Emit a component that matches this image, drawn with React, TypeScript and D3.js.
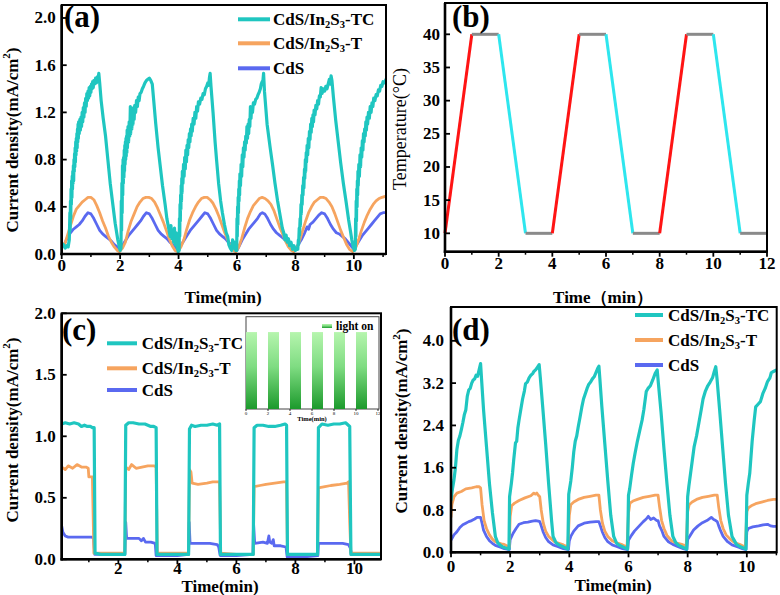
import React from "react";
import * as d3 from "d3";

type Pt = [number, number];

// ---------------- data: panel (a) ----------------
const A_TC: Pt[] = [
  [0.0,0.07],[0.06,0.08],[0.12,0.05],[0.17,0.07],[0.22,0.06],[0.26,0.12],[0.28,0.35],[0.29,0.2],[0.3,0.45],[0.31,0.3],[0.32,0.55],[0.33,0.42],[0.34,0.62],[0.35,0.48],[0.36,0.66],[0.37,0.55],[0.38,0.7],[0.39,0.6],[0.4,0.75],[0.41,0.62],[0.42,0.8],[0.43,0.7],[0.44,0.85],[0.45,0.74],[0.46,0.9],[0.47,0.78],[0.48,0.95],[0.49,0.84],[0.5,0.98],[0.51,0.87],[0.52,1.02],[0.53,0.9],[0.54,1.06],[0.55,0.95],[0.56,1.1],[0.57,0.98],[0.58,1.12],[0.6,1.02],[0.62,1.14],[0.64,1.05],[0.66,1.16],[0.68,1.08],[0.7,1.2],[0.72,1.12],[0.74,1.24],[0.76,1.16],[0.78,1.28],[0.8,1.2],[0.82,1.32],[0.84,1.25],[0.86,1.36],[0.88,1.3],[0.9,1.38],[0.92,1.32],[0.94,1.41],[0.96,1.34],[0.98,1.42],[1.0,1.37],[1.02,1.44],[1.04,1.4],[1.06,1.46],[1.08,1.41],[1.1,1.47],[1.13,1.44],[1.16,1.49],[1.19,1.45],[1.22,1.5],[1.24,1.47],[1.27,1.53],[1.3,1.45],[1.35,1.3],[1.42,1.15],[1.5,1.0],[1.58,0.8],[1.66,0.6],[1.75,0.42],[1.83,0.26],[1.92,0.12],[2.0,0.03],
  [2.03,0.05],[2.04,0.45],[2.05,0.2],[2.06,0.6],[2.07,0.35],[2.08,0.75],[2.09,0.5],[2.1,0.8],[2.11,0.6],[2.12,0.82],[2.13,0.65],[2.14,0.88],[2.15,0.7],[2.16,0.92],[2.17,0.76],[2.18,0.95],[2.19,0.8],[2.2,0.98],[2.21,0.83],[2.22,1.0],[2.23,0.86],[2.24,1.05],[2.25,0.9],[2.27,1.08],[2.29,0.95],[2.31,1.12],[2.33,1.0],[2.35,1.25],[2.36,1.02],[2.38,1.2],[2.4,1.06],[2.42,1.22],[2.44,1.1],[2.46,1.24],[2.48,1.14],[2.5,1.26],[2.53,1.2],[2.56,1.3],[2.59,1.25],[2.62,1.33],[2.65,1.3],[2.68,1.36],[2.72,1.37],[2.76,1.4],[2.8,1.42],[2.85,1.45],[2.9,1.47],[2.95,1.48],[3.0,1.49],[3.05,1.47],[3.1,1.44],[3.15,1.3],[3.22,1.1],[3.3,0.9],[3.37,0.75],[3.45,0.58],[3.54,0.42],[3.6,0.3],[3.66,0.22],[3.71,0.15],[3.74,0.24],[3.77,0.13],[3.8,0.2],[3.83,0.1],[3.86,0.22],[3.89,0.08],[3.92,0.18],[3.95,0.06],[3.99,0.02],
  [4.02,0.03],[4.03,0.3],[4.04,0.15],[4.05,0.42],[4.06,0.28],[4.07,0.5],[4.08,0.38],[4.09,0.58],[4.1,0.45],[4.11,0.64],[4.12,0.52],[4.13,0.7],[4.15,0.6],[4.17,0.76],[4.19,0.66],[4.21,0.82],[4.23,0.72],[4.25,0.88],[4.27,0.78],[4.29,0.92],[4.31,0.84],[4.33,0.97],[4.35,0.9],[4.37,1.02],[4.39,0.95],[4.41,1.06],[4.43,1.0],[4.45,1.1],[4.47,1.04],[4.5,1.15],[4.53,1.1],[4.56,1.2],[4.59,1.15],[4.62,1.25],[4.65,1.21],[4.68,1.29],[4.72,1.27],[4.76,1.32],[4.8,1.31],[4.84,1.36],[4.88,1.35],[4.92,1.4],[4.96,1.42],[5.0,1.45],[5.03,1.43],[5.06,1.5],[5.08,1.53],[5.11,1.42],[5.18,1.2],[5.25,0.95],[5.3,0.8],[5.37,0.6],[5.44,0.45],[5.5,0.35],[5.57,0.25],[5.63,0.18],[5.68,0.15],[5.72,0.08],[5.77,0.05],[5.82,0.03],[5.85,0.12],[5.88,0.05],[5.92,0.1],[5.96,0.03],
  [5.99,0.03],[6.0,0.3],[6.01,0.15],[6.02,0.4],[6.03,0.25],[6.04,0.48],[6.05,0.35],[6.06,0.55],[6.07,0.45],[6.08,0.62],[6.09,0.5],[6.1,0.68],[6.12,0.58],[6.14,0.76],[6.16,0.66],[6.18,0.84],[6.2,0.74],[6.22,0.9],[6.24,0.82],[6.26,0.95],[6.28,0.88],[6.3,1.0],[6.32,0.94],[6.34,1.08],[6.36,0.98],[6.38,1.1],[6.4,1.02],[6.42,1.14],[6.44,1.08],[6.46,1.25],[6.48,1.15],[6.5,1.24],[6.53,1.2],[6.56,1.28],[6.6,1.27],[6.64,1.31],[6.68,1.32],[6.72,1.35],[6.76,1.37],[6.8,1.4],[6.83,1.44],[6.86,1.46],[6.88,1.45],[6.91,1.53],[6.94,1.38],[7.03,1.1],[7.13,0.91],[7.22,0.75],[7.3,0.6],[7.39,0.45],[7.48,0.32],[7.55,0.22],[7.6,0.18],[7.64,0.12],[7.68,0.16],[7.72,0.1],[7.76,0.13],[7.8,0.07],[7.85,0.1],[7.9,0.04],[7.95,0.07],[8.0,0.03],[8.05,0.05],
  [8.08,0.04],[8.1,0.12],[8.11,0.08],[8.13,0.22],[8.14,0.16],[8.16,0.3],[8.17,0.24],[8.19,0.42],[8.2,0.34],[8.22,0.5],[8.23,0.42],[8.25,0.58],[8.26,0.5],[8.28,0.65],[8.29,0.56],[8.31,0.72],[8.32,0.64],[8.34,0.8],[8.35,0.7],[8.37,0.86],[8.38,0.78],[8.4,0.92],[8.42,0.84],[8.44,0.98],[8.46,0.9],[8.48,1.04],[8.5,0.97],[8.52,1.1],[8.54,1.03],[8.56,1.15],[8.58,1.08],[8.6,1.18],[8.62,1.12],[8.64,1.22],[8.67,1.18],[8.7,1.26],[8.73,1.23],[8.76,1.3],[8.79,1.27],[8.82,1.34],[8.85,1.33],[8.88,1.41],[8.91,1.36],[8.95,1.4],[9.0,1.38],[9.04,1.42],[9.08,1.4],[9.12,1.44],[9.16,1.48],[9.19,1.44],[9.22,1.51],[9.25,1.47],[9.3,1.33],[9.38,1.13],[9.47,0.94],[9.55,0.77],[9.64,0.6],[9.73,0.45],[9.82,0.29],[9.88,0.2],[9.93,0.12],[9.97,0.07],[10.02,0.03],
  [10.05,0.04],[10.06,0.3],[10.07,0.15],[10.08,0.45],[10.09,0.28],[10.1,0.55],[10.11,0.4],[10.12,0.62],[10.13,0.5],[10.14,0.7],[10.15,0.58],[10.17,0.76],[10.19,0.66],[10.21,0.84],[10.23,0.74],[10.25,0.9],[10.27,0.82],[10.29,0.96],[10.31,0.88],[10.33,1.02],[10.35,0.95],[10.37,1.06],[10.39,1.0],[10.41,1.12],[10.43,1.05],[10.45,1.16],[10.47,1.1],[10.5,1.2],[10.53,1.15],[10.56,1.25],[10.59,1.2],[10.62,1.28],[10.65,1.25],[10.68,1.32],[10.72,1.3],[10.76,1.35],[10.8,1.34],[10.84,1.39],[10.88,1.38],[10.92,1.43],[10.96,1.42],[11.0,1.46],[11.05,1.45],[11.1,1.48],
];
const A_T: Pt[] = [
  [0,0.09],[0.1,0.08],[0.2,0.16],[0.3,0.24],[0.4,0.32],[0.5,0.38],[0.6,0.41],[0.7,0.44],[0.8,0.46],[0.9,0.48],[1.0,0.48],[1.1,0.46],[1.2,0.41],[1.3,0.35],[1.4,0.28],[1.5,0.22],[1.6,0.15],[1.7,0.1],[1.8,0.06],[1.9,0.03],[1.98,0.02],
  [2.08,0.05],[2.18,0.1],[2.28,0.2],[2.38,0.28],[2.48,0.34],[2.58,0.4],[2.68,0.44],[2.78,0.47],[2.88,0.48],[2.98,0.48],[3.08,0.47],[3.18,0.44],[3.28,0.39],[3.38,0.33],[3.48,0.27],[3.58,0.2],[3.68,0.13],[3.78,0.07],[3.88,0.03],[3.97,0.02],
  [4.08,0.06],[4.18,0.12],[4.28,0.21],[4.38,0.29],[4.48,0.35],[4.58,0.4],[4.68,0.44],[4.78,0.47],[4.88,0.48],[4.98,0.48],[5.08,0.46],[5.18,0.43],[5.28,0.38],[5.38,0.32],[5.48,0.25],[5.58,0.18],[5.68,0.12],[5.78,0.06],[5.88,0.03],[5.96,0.02],
  [6.06,0.06],[6.16,0.13],[6.26,0.22],[6.36,0.3],[6.46,0.36],[6.56,0.41],[6.66,0.44],[6.76,0.47],[6.86,0.48],[6.96,0.47],[7.06,0.45],[7.16,0.42],[7.26,0.37],[7.36,0.3],[7.46,0.23],[7.56,0.17],[7.66,0.11],[7.76,0.06],[7.86,0.03],[7.95,0.02],
  [8.05,0.05],[8.15,0.12],[8.25,0.2],[8.35,0.28],[8.45,0.35],[8.55,0.4],[8.65,0.44],[8.75,0.46],[8.85,0.48],[8.95,0.48],[9.05,0.47],[9.15,0.44],[9.25,0.4],[9.35,0.34],[9.45,0.27],[9.55,0.2],[9.65,0.14],[9.75,0.08],[9.85,0.04],[9.96,0.02],
  [10.06,0.05],[10.16,0.12],[10.26,0.2],[10.36,0.27],[10.46,0.33],[10.56,0.38],[10.66,0.42],[10.76,0.45],[10.86,0.47],[10.96,0.48],[11.1,0.49],
];
const A_CDS: Pt[] = [
  [0,0.05],[0.1,0.09],[0.2,0.14],[0.3,0.18],[0.4,0.21],[0.5,0.23],[0.6,0.25],[0.7,0.28],[0.8,0.32],[0.9,0.35],[1.0,0.34],[1.1,0.3],[1.2,0.25],[1.3,0.2],[1.4,0.17],[1.5,0.15],[1.6,0.13],[1.7,0.11],[1.8,0.08],[1.9,0.06],[2.0,0.04],
  [2.1,0.08],[2.2,0.12],[2.3,0.16],[2.4,0.19],[2.5,0.22],[2.6,0.25],[2.7,0.28],[2.8,0.32],[2.9,0.35],[3.0,0.34],[3.1,0.3],[3.2,0.25],[3.3,0.2],[3.4,0.17],[3.5,0.15],[3.6,0.13],[3.7,0.1],[3.8,0.08],[3.9,0.05],[4.0,0.03],
  [4.1,0.08],[4.2,0.12],[4.3,0.16],[4.4,0.2],[4.5,0.23],[4.6,0.26],[4.7,0.29],[4.8,0.32],[4.9,0.35],[5.0,0.34],[5.1,0.3],[5.2,0.25],[5.3,0.2],[5.4,0.17],[5.5,0.15],[5.6,0.13],[5.7,0.1],[5.8,0.08],[5.9,0.05],[6.0,0.03],
  [6.1,0.08],[6.2,0.13],[6.3,0.17],[6.4,0.21],[6.5,0.24],[6.6,0.27],[6.7,0.3],[6.8,0.34],[6.87,0.35],[6.95,0.34],[7.05,0.3],[7.15,0.25],[7.25,0.21],[7.35,0.18],[7.45,0.16],[7.55,0.14],[7.65,0.12],[7.75,0.09],[7.85,0.07],[7.95,0.05],[8.0,0.04],
  [8.1,0.08],[8.2,0.12],[8.3,0.17],[8.4,0.23],[8.45,0.21],[8.5,0.25],[8.6,0.27],[8.7,0.3],[8.8,0.33],[8.9,0.35],[9.0,0.34],[9.1,0.3],[9.2,0.25],[9.3,0.21],[9.4,0.18],[9.5,0.17],[9.6,0.15],[9.7,0.13],[9.8,0.1],[9.9,0.07],[10.0,0.04],
  [10.1,0.08],[10.2,0.12],[10.3,0.16],[10.4,0.19],[10.5,0.22],[10.6,0.25],[10.7,0.28],[10.8,0.31],[10.9,0.34],[11.0,0.35],[11.1,0.35],
];
const A_YTICKS = [0, 0.4, 0.8, 1.2, 1.6, 2.0];
const A_XTICKS = [0, 2, 4, 6, 8, 10];
const A_XMINOR = [1, 3, 5, 7, 9, 11];

// ---------------- data: panel (b) ----------------
const B_TIME = [0, 1, 2, 3, 4, 5, 6, 7, 8, 9, 10, 11, 12];
const B_TEMP = [10, 40, 40, 10, 10, 40, 40, 10, 10, 40, 40, 10, 10];
const B_YTICKS = [10, 15, 20, 25, 30, 35, 40];
const B_XTICKS = [0, 2, 4, 6, 8, 10, 12];
const B_XMINOR = [1, 3, 5, 7, 9, 11];

// ---------------- data: panel (c) ----------------
const C_TC: Pt[] = [
  [0.08,1.1],[0.2,1.11],[0.35,1.1],[0.5,1.11],[0.65,1.1],[0.75,1.08],[0.85,1.09],[0.95,1.08],[1.05,1.08],[1.12,1.07],[1.18,1.07],[1.21,0.05],[1.4,0.04],[1.8,0.04],[2.22,0.04],[2.25,1.09],
  [2.35,1.11],[2.5,1.11],[2.7,1.1],[2.9,1.1],[3.0,1.09],[3.1,1.08],[3.2,1.08],[3.28,1.07],[3.31,0.04],[3.8,0.04],[4.38,0.04],[4.41,1.06],[4.48,1.09],[4.6,1.08],[4.8,1.09],[5.0,1.09],[5.2,1.1],[5.35,1.09],[5.43,1.1],[5.46,0.04],
  [6.0,0.04],[6.57,0.04],[6.6,1.07],[6.7,1.09],[6.9,1.09],[7.1,1.08],[7.3,1.08],[7.5,1.09],[7.65,1.1],[7.7,1.09],[7.73,0.04],[8.3,0.04],[8.75,0.04],[8.78,1.07],[8.9,1.1],[9.1,1.09],[9.3,1.1],[9.5,1.1],[9.7,1.11],[9.84,1.08],[9.88,0.04],[10.5,0.04],[10.9,0.04],
];
const C_T: Pt[] = [
  [0.08,0.75],[0.2,0.73],[0.3,0.76],[0.45,0.74],[0.6,0.77],[0.75,0.75],[0.9,0.75],[0.98,0.74],[1.0,0.67],[1.12,0.67],[1.17,0.05],[1.5,0.05],[2.0,0.05],[2.22,0.05],[2.25,0.75],[2.35,0.73],[2.45,0.77],[2.6,0.74],[2.8,0.75],[3.0,0.76],[3.2,0.76],[3.28,0.75],[3.32,0.05],
  [4.0,0.05],[4.38,0.05],[4.41,0.73],[4.46,0.71],[4.5,0.62],[4.7,0.61],[5.0,0.62],[5.2,0.63],[5.43,0.63],[5.47,0.05],[6.0,0.04],[6.57,0.04],[6.6,0.59],[6.8,0.6],[7.0,0.61],[7.3,0.62],[7.6,0.63],[7.7,0.63],[7.73,0.04],
  [8.3,0.04],[8.75,0.04],[8.78,0.58],[9.0,0.59],[9.2,0.6],[9.5,0.61],[9.75,0.62],[9.8,0.63],[9.84,0.3],[9.88,0.05],[10.5,0.05],[10.9,0.05],
];
const C_CDS: Pt[] = [
  [0.08,0.27],[0.12,0.22],[0.2,0.19],[0.3,0.18],[0.6,0.18],[0.9,0.18],[1.1,0.18],[1.16,0.17],[1.2,0.04],[1.5,0.04],[2.22,0.04],[2.25,0.3],[2.28,0.17],[2.5,0.17],[2.7,0.17],[2.78,0.15],[2.85,0.17],[2.92,0.14],[3.1,0.14],[3.25,0.13],[3.28,0.03],
  [4.0,0.03],[4.38,0.04],[4.4,0.3],[4.43,0.13],[4.8,0.13],[5.1,0.13],[5.35,0.12],[5.4,0.1],[5.45,0.03],[6.0,0.03],[6.56,0.04],[6.58,0.3],[6.62,0.13],[6.9,0.14],[7.05,0.13],[7.1,0.19],[7.13,0.14],[7.2,0.13],[7.25,0.16],[7.28,0.11],[7.5,0.11],[7.68,0.1],[7.72,0.02],
  [8.3,0.02],[8.76,0.03],[8.78,0.13],[9.2,0.13],[9.6,0.13],[9.8,0.12],[9.86,0.09],[9.9,0.04],[10.9,0.04],
];
const C_YTICKS = [0, 0.5, 1.0, 1.5, 2.0];
const C_XTICKS = [2, 4, 6, 8, 10];
const C_XMINOR = [1, 3, 5, 7, 9];
const INSET_ON: [number, number][] = [[0, 1], [2, 3], [4, 5], [6, 7], [8, 9], [10, 11]];
const INSET_LEVEL = 1.0;
const INSET_XTICKS = [0, 2, 4, 6, 8, 10, 12];

// ---------------- data: panel (d) ----------------
const D_TC: Pt[] = [
  [0,0.99],[0.05,1.2],[0.1,1.37],[0.15,1.6],[0.2,1.95],[0.25,2.12],[0.3,2.2],[0.35,2.32],[0.4,2.45],[0.45,2.6],[0.5,2.69],[0.55,2.95],[0.6,3.07],[0.65,3.1],[0.7,3.2],[0.75,3.26],[0.8,3.28],[0.85,3.35],[0.9,3.33],[0.95,3.45],[1.0,3.57],[1.03,3.3],[1.1,2.7],[1.2,2.0],[1.3,1.3],[1.4,0.75],[1.5,0.3],[1.58,0.18],[1.65,0.14],[1.75,0.1],[1.85,0.08],[1.96,0.06],
  [1.98,1.05],[2.04,1.3],[2.08,1.5],[2.12,1.75],[2.18,2.07],[2.22,2.1],[2.26,2.35],[2.3,2.5],[2.36,2.7],[2.42,2.9],[2.48,3.05],[2.52,3.19],[2.58,3.22],[2.64,3.3],[2.7,3.35],[2.76,3.38],[2.8,3.42],[2.86,3.45],[2.92,3.5],[2.98,3.55],[3.02,3.3],[3.1,2.75],[3.2,2.05],[3.3,1.3],[3.4,0.6],[3.45,0.3],[3.55,0.18],[3.65,0.14],[3.8,0.1],[3.95,0.06],
  [3.98,1.1],[4.05,1.35],[4.1,1.6],[4.15,1.9],[4.2,2.1],[4.25,2.2],[4.3,2.37],[4.36,2.55],[4.42,2.74],[4.48,2.9],[4.54,3.0],[4.6,3.1],[4.66,3.18],[4.72,3.22],[4.78,3.28],[4.84,3.32],[4.9,3.4],[4.96,3.48],[5.0,3.52],[5.03,3.3],[5.1,2.75],[5.2,2.05],[5.3,1.35],[5.4,0.7],[5.5,0.3],[5.6,0.17],[5.7,0.13],[5.85,0.09],[5.97,0.06],
  [6.0,1.08],[6.04,1.2],[6.1,1.45],[6.16,1.68],[6.22,1.87],[6.3,2.1],[6.38,2.3],[6.46,2.5],[6.52,2.7],[6.6,3.04],[6.66,3.1],[6.74,3.15],[6.82,3.26],[6.9,3.38],[6.97,3.45],[7.01,3.2],[7.1,2.65],[7.2,1.95],[7.3,1.3],[7.4,0.7],[7.5,0.3],[7.6,0.18],[7.7,0.13],[7.85,0.09],[7.97,0.06],
  [8.0,1.05],[8.04,1.25],[8.1,1.5],[8.16,1.75],[8.22,2.0],[8.3,2.2],[8.38,2.45],[8.46,2.7],[8.52,2.9],[8.6,3.05],[8.68,3.15],[8.76,3.22],[8.84,3.3],[8.9,3.42],[8.95,3.51],[8.99,3.3],[9.08,2.7],[9.18,2.0],[9.28,1.3],[9.38,0.7],[9.5,0.3],[9.57,0.23],[9.65,0.15],[9.8,0.1],[9.97,0.06],
  [10.0,1.08],[10.05,1.3],[10.1,1.5],[10.18,2.1],[10.25,2.5],[10.3,2.75],[10.38,2.8],[10.46,2.85],[10.54,3.0],[10.62,3.1],[10.7,3.23],[10.78,3.3],[10.83,3.4],[10.9,3.42],[11.01,3.45],
];
const D_T: Pt[] = [
  [0,0.67],[0.03,0.9],[0.1,1.05],[0.2,1.12],[0.35,1.15],[0.5,1.2],[0.7,1.22],[0.85,1.24],[0.95,1.24],[1.0,1.22],[1.05,0.9],[1.12,0.6],[1.2,0.45],[1.3,0.33],[1.4,0.25],[1.5,0.2],[1.6,0.18],[1.7,0.16],[1.8,0.15],[1.9,0.12],[1.97,0.1],
  [2.0,0.67],[2.05,0.88],[2.15,0.93],[2.3,0.98],[2.5,1.03],[2.7,1.07],[2.8,1.12],[2.85,1.1],[2.9,1.12],[2.95,1.08],[3.0,1.05],[3.05,0.8],[3.12,0.55],[3.2,0.4],[3.3,0.3],[3.4,0.25],[3.5,0.2],[3.6,0.18],[3.7,0.16],[3.8,0.14],[3.95,0.1],
  [4.0,0.7],[4.05,0.9],[4.15,0.95],[4.3,1.0],[4.5,1.04],[4.7,1.06],[4.9,1.08],[5.0,1.08],[5.05,0.8],[5.12,0.55],[5.2,0.4],[5.3,0.3],[5.45,0.22],[5.6,0.18],[5.8,0.14],[5.95,0.1],
  [6.0,0.74],[6.05,0.93],[6.15,0.97],[6.3,1.0],[6.5,1.04],[6.7,1.06],[6.9,1.08],[7.0,1.08],[7.05,0.86],[7.12,0.6],[7.2,0.45],[7.3,0.32],[7.45,0.22],[7.6,0.18],[7.8,0.15],[7.95,0.12],
  [8.0,0.77],[8.05,0.9],[8.15,0.95],[8.3,1.0],[8.5,1.04],[8.7,1.06],[8.9,1.08],[9.0,1.08],[9.05,0.85],[9.12,0.6],[9.2,0.45],[9.3,0.33],[9.45,0.24],[9.6,0.18],[9.8,0.14],[9.95,0.1],
  [10.0,0.77],[10.05,0.84],[10.15,0.88],[10.3,0.92],[10.5,0.95],[10.7,0.98],[10.9,1.0],[11.01,1.0],
];
const D_CDS: Pt[] = [
  [0,0.23],[0.05,0.28],[0.1,0.33],[0.2,0.39],[0.3,0.47],[0.4,0.52],[0.5,0.55],[0.6,0.58],[0.7,0.6],[0.8,0.63],[0.88,0.66],[0.95,0.66],[1.0,0.66],[1.05,0.55],[1.1,0.42],[1.2,0.3],[1.3,0.22],[1.4,0.17],[1.5,0.13],[1.6,0.11],[1.7,0.09],[1.8,0.07],[1.9,0.06],[1.97,0.05],
  [2.0,0.24],[2.05,0.3],[2.1,0.36],[2.2,0.45],[2.3,0.53],[2.45,0.56],[2.6,0.57],[2.75,0.59],[2.86,0.6],[2.95,0.59],[3.0,0.58],[3.05,0.5],[3.12,0.38],[3.2,0.28],[3.3,0.2],[3.45,0.14],[3.6,0.11],[3.8,0.07],[3.97,0.05],
  [4.0,0.22],[4.05,0.3],[4.15,0.4],[4.3,0.5],[4.5,0.55],[4.7,0.57],[4.9,0.58],[5.0,0.58],[5.05,0.5],[5.12,0.38],[5.2,0.28],[5.3,0.2],[5.45,0.14],[5.6,0.11],[5.8,0.07],[5.97,0.05],
  [6.0,0.23],[6.1,0.32],[6.2,0.4],[6.35,0.49],[6.5,0.58],[6.6,0.63],[6.67,0.68],[6.75,0.62],[6.85,0.65],[6.95,0.6],[7.0,0.6],[7.05,0.5],[7.12,0.42],[7.2,0.3],[7.35,0.2],[7.5,0.15],[7.7,0.1],[7.85,0.07],[7.97,0.05],
  [8.0,0.24],[8.1,0.33],[8.2,0.42],[8.35,0.5],[8.5,0.56],[8.65,0.6],[8.8,0.66],[8.88,0.62],[8.95,0.6],[9.0,0.58],[9.05,0.5],[9.12,0.4],[9.2,0.3],[9.35,0.2],[9.5,0.14],[9.7,0.1],[9.85,0.07],[9.97,0.05],
  [10.0,0.39],[10.05,0.45],[10.2,0.48],[10.4,0.5],[10.55,0.52],[10.7,0.53],[10.8,0.5],[10.9,0.49],[11.01,0.49],
];
const D_YTICKS = [0, 0.8, 1.6, 2.4, 3.2, 4.0];
const D_XTICKS = [0, 2, 4, 6, 8, 10];
const D_XMINOR = [1, 3, 5, 7, 9, 11];

// ---------------- style ----------------
const FONT = "'Liberation Serif','Times New Roman',serif";
const CYAN = "#1fc6c0";
const ORANGE = "#f6a45f";
const BLUE = "#5a69f0";
const B_RED = "#ff1414";
const B_CYAN = "#2ee6ee";
const B_GRAY = "#8a8a8a";

type Box = { L: number; R: number; T: number; B: number; xd: [number, number]; yd: [number, number] };

const PA: Box = { L: 61.7, R: 386, T: 5, B: 254, xd: [0, 11.1], yd: [0, 2.11] };
const PB: Box = { L: 445, R: 767, T: 3, B: 251.7, xd: [0, 12], yd: [7.23, 44.72] };
const PC: Box = { L: 61.7, R: 381, T: 313.3, B: 559.3, xd: [0.08, 10.9], yd: [0, 2] };
const PD: Box = { L: 451, R: 776.7, T: 307, B: 552.3, xd: [0, 11.01], yd: [0, 4.64] };

function scales(p: Box) {
  const xs = d3.scaleLinear().domain(p.xd).range([p.L, p.R]);
  const ys = d3.scaleLinear().domain(p.yd).range([p.B, p.T]);
  return { xs, ys };
}

function Axes(props: {
  p: Box; xTicks: number[]; xMinor: number[]; yTicks: number[]; yFmt: (v: number) => string;
  xTickY: number; yTickGap: number;
}) {
  const { p, xTicks, xMinor, yTicks, yFmt, xTickY, yTickGap } = props;
  const { xs, ys } = scales(p);
  return (
    <g>
      <rect x={p.L} y={p.T} width={p.R - p.L} height={p.B - p.T} fill="none" stroke="#000" strokeWidth={2} />
      <line x1={p.L} x2={p.L} y1={p.T} y2={p.B + 1.2} stroke="#000" strokeWidth={2.6} />
      <line x1={p.L - 1.2} x2={p.R} y1={p.B} y2={p.B} stroke="#000" strokeWidth={2.6} />
      {xTicks.map((t) => (
        <g key={"xt" + t}>
          <line x1={xs(t)} x2={xs(t)} y1={p.B} y2={p.B + 5} stroke="#000" strokeWidth={1.8} />
          <text x={xs(t)} y={xTickY} textAnchor="middle" dominantBaseline="central" fontSize={17} fontWeight="bold" fontFamily={FONT}>{t}</text>
        </g>
      ))}
      {xMinor.filter((t) => xs(t) <= p.R + 0.5).map((t) => (
        <line key={"xm" + t} x1={xs(t)} x2={xs(t)} y1={p.B} y2={p.B + 3} stroke="#000" strokeWidth={1.5} />
      ))}
      {yTicks.map((t) => (
        <g key={"yt" + t}>
          <line x1={p.L} x2={p.L + 5} y1={ys(t)} y2={ys(t)} stroke="#000" strokeWidth={1.8} />
          <text x={p.L - yTickGap} y={ys(t)} textAnchor="end" dominantBaseline="central" fontSize={17} fontWeight="bold" fontFamily={FONT}>{yFmt(t)}</text>
        </g>
      ))}
    </g>
  );
}

function Series({ p, data, color, width, clip }: { p: Box; data: Pt[]; color: string; width: number; clip: string }) {
  const { xs, ys } = scales(p);
  const gen = d3.line<Pt>().x((d) => xs(d[0])).y((d) => ys(d[1]));
  return <path d={gen(data) || ""} fill="none" stroke={color} strokeWidth={width} strokeLinejoin="round" strokeLinecap="round" clipPath={`url(#${clip})`} />;
}

function Name({ suffix, fs }: { suffix: string; fs: number }) {
  const sub = fs * 0.62;
  const dy = fs * 0.28;
  return (
    <>
      CdS/In<tspan fontSize={sub} dy={dy}>2</tspan>
      <tspan dy={-dy}>S</tspan>
      <tspan fontSize={sub} dy={dy}>3</tspan>
      <tspan dy={-dy}>{suffix}</tspan>
    </>
  );
}

function Legend({ x1, x2, tx, ys, fs, lw }: { x1: number; x2: number; tx: number; ys: number[]; fs: number; lw: number }) {
  const rows = [
    { c: CYAN, label: <Name suffix="-TC" fs={fs} /> },
    { c: ORANGE, label: <Name suffix="-T" fs={fs} /> },
    { c: BLUE, label: <>CdS</> },
  ];
  return (
    <g>
      {rows.map((r, i) => (
        <g key={i}>
          <line x1={x1} x2={x2} y1={ys[i]} y2={ys[i]} stroke={r.c} strokeWidth={lw} />
          <text x={tx} y={ys[i]} dominantBaseline="central" fontSize={fs} fontWeight="bold" fontFamily={FONT}>{r.label}</text>
        </g>
      ))}
    </g>
  );
}

function YLabel({ x, y, children, bold = true, fs = 17 }: { x: number; y: number; children: React.ReactNode; bold?: boolean; fs?: number }) {
  return (
    <text transform={`translate(${x},${y}) rotate(-90)`} textAnchor="middle" dominantBaseline="central" fontSize={fs} fontWeight={bold ? "bold" : "normal"} fontFamily={FONT}>
      {children}
    </text>
  );
}

function CurrentLabel() {
  return (
    <>
      Current density(mA/cm<tspan fontSize={11} dy={-6}>2</tspan>
      <tspan dy={6}>)</tspan>
    </>
  );
}

function ClipDef({ id, p }: { id: string; p: Box }) {
  return (
    <clipPath id={id}>
      <rect x={p.L} y={p.T} width={p.R - p.L} height={p.B - p.T} />
    </clipPath>
  );
}

function PanelB() {
  const { xs, ys } = scales(PB);
  const segs = B_TIME.slice(0, -1).map((t, i) => {
    const a = B_TEMP[i];
    const b = B_TEMP[i + 1];
    const color = b > a ? B_RED : b < a ? B_CYAN : B_GRAY;
    return { x1: xs(t), x2: xs(B_TIME[i + 1]), y1: ys(a), y2: ys(b), color, key: i };
  });
  return (
    <g>
      {segs.map((s) => (
        <line key={s.key} x1={s.x1} x2={s.x2} y1={s.y1} y2={s.y2} stroke={s.color} strokeWidth={3} />
      ))}
    </g>
  );
}

function Inset() {
  const L = 246, R = 378, T = 316.7, B = 409;
  const xs = d3.scaleLinear().domain([0, 12]).range([L, R]);
  const ys = d3.scaleLinear().domain([0, 1.2]).range([B, T]);
  return (
    <g>
      <defs>
        <linearGradient id="greenGrad" x1="0" y1="0" x2="0" y2="1">
          <stop offset="0%" stopColor="#b6f5ae" />
          <stop offset="45%" stopColor="#7fdc82" />
          <stop offset="100%" stopColor="#1c9a2c" />
        </linearGradient>
      </defs>
      <rect x={L} y={T} width={R - L + 1} height={B - T} fill="#fff" stroke="#444" strokeWidth={1} />
      {INSET_ON.map(([a, b], i) => (
        <rect key={i} x={xs(a)} y={ys(INSET_LEVEL)} width={xs(b) - xs(a)} height={ys(0) - ys(INSET_LEVEL)} fill="url(#greenGrad)" />
      ))}
      {INSET_XTICKS.map((t) => (
        <g key={t}>
          <line x1={xs(t)} x2={xs(t)} y1={B} y2={B + 2} stroke="#000" strokeWidth={0.8} />
          <text x={xs(t)} y={B + 4.5} textAnchor="middle" dominantBaseline="central" fontSize={5} fontFamily={FONT}>{t}</text>
        </g>
      ))}
      <text x={(L + R) / 2} y={B + 9.5} textAnchor="middle" dominantBaseline="central" fontSize={6.5} fontWeight="bold" fontFamily={FONT}>Time(min)</text>
      <rect x={322} y={324} width={10} height={4} fill="url(#greenGrad)" />
      <text x={336} y={326} dominantBaseline="central" fontSize={11.5} fontWeight="bold" fontFamily={FONT}>light on</text>
    </g>
  );
}

export default function App() {
  const fmt1 = d3.format(".1f");
  const fmt0 = (v: number) => String(v);
  return (
    <svg width={780} height={595} viewBox="0 0 780 595" style={{ position: "absolute", left: 0, top: 0, background: "#fff" }} fontFamily={FONT}>
      <defs>
        <ClipDef id="clipA" p={PA} />
        <ClipDef id="clipB" p={PB} />
        <ClipDef id="clipC" p={PC} />
        <ClipDef id="clipD" p={PD} />
      </defs>
      <rect x={0} y={0} width={780} height={595} fill="#fff" />

      {/* panel (a) */}
      <Series p={PA} data={A_CDS} color={BLUE} width={2.8} clip="clipA" />
      <Series p={PA} data={A_T} color={ORANGE} width={2.8} clip="clipA" />
      <Series p={PA} data={A_TC} color={CYAN} width={3.2} clip="clipA" />
      <Axes p={PA} xTicks={A_XTICKS} xMinor={A_XMINOR} yTicks={A_YTICKS} yFmt={fmt1} xTickY={265} yTickGap={6} />
      <Legend x1={238} x2={270} tx={273} ys={[19.3, 43.3, 68.3]} fs={17} lw={4} />
      <text x={64} y={27} fontSize={31} fontWeight="bold" fontFamily={FONT}>(a)</text>
      <YLabel x={12} y={140}><CurrentLabel /></YLabel>
      <text x={223} y={297} textAnchor="middle" dominantBaseline="central" fontSize={17} fontWeight="bold" fontFamily={FONT}>Time(min)</text>

      {/* panel (b) */}
      <PanelB />
      <Axes p={PB} xTicks={B_XTICKS} xMinor={B_XMINOR} yTicks={B_YTICKS} yFmt={fmt0} xTickY={263} yTickGap={5} />
      <text x={452} y={27} fontSize={31} fontWeight="bold" fontFamily={FONT}>(b)</text>
      <YLabel x={400} y={129} bold={false} fs={18}>Temperature(°C)</YLabel>
      <text x={603} y={297} textAnchor="middle" dominantBaseline="central" fontSize={17} fontWeight="bold" fontFamily={FONT}>Time（min）</text>

      {/* panel (c) */}
      <Series p={PC} data={C_CDS} color={BLUE} width={2.8} clip="clipC" />
      <Series p={PC} data={C_T} color={ORANGE} width={2.8} clip="clipC" />
      <Series p={PC} data={C_TC} color={CYAN} width={3.2} clip="clipC" />
      <Axes p={PC} xTicks={C_XTICKS} xMinor={C_XMINOR} yTicks={C_YTICKS} yFmt={fmt1} xTickY={568} yTickGap={6} />
      <Inset />
      <Legend x1={107} x2={137} tx={141.7} ys={[343.3, 368.3, 390]} fs={17} lw={4} />
      <text x={62} y={340} fontSize={31} fontWeight="bold" fontFamily={FONT}>(c)</text>
      <YLabel x={12} y={430}><CurrentLabel /></YLabel>
      <text x={220} y={586.5} textAnchor="middle" dominantBaseline="central" fontSize={17} fontWeight="bold" fontFamily={FONT}>Time(min)</text>

      {/* panel (d) */}
      <Series p={PD} data={D_CDS} color={BLUE} width={2.8} clip="clipD" />
      <Series p={PD} data={D_T} color={ORANGE} width={2.8} clip="clipD" />
      <Series p={PD} data={D_TC} color={CYAN} width={3.2} clip="clipD" />
      <Axes p={PD} xTicks={D_XTICKS} xMinor={D_XMINOR} yTicks={D_YTICKS} yFmt={fmt1} xTickY={566.5} yTickGap={7} />
      <Legend x1={635} x2={663} tx={668} ys={[315, 340, 365]} fs={17} lw={4} />
      <text x={452} y={340} fontSize={31} fontWeight="bold" fontFamily={FONT}>(d)</text>
      <YLabel x={401.7} y={421}><CurrentLabel /></YLabel>
      <text x={613} y={585} textAnchor="middle" dominantBaseline="central" fontSize={17} fontWeight="bold" fontFamily={FONT}>Time(min)</text>
    </svg>
  );
}
